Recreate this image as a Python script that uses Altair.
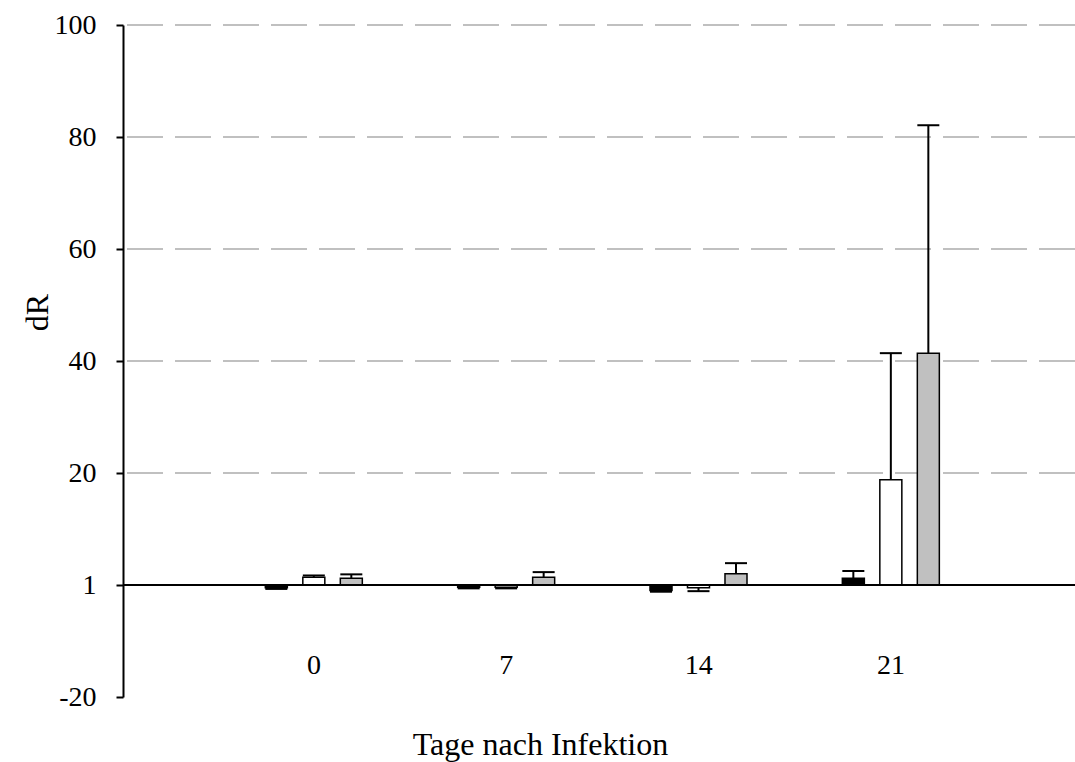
import altair as alt
import pandas as pd

# ---- data ----
days = ["0", "7", "14", "21"]
series = ["Gruppe A", "Gruppe B", "Gruppe C"]
fills = ["#000000", "#ffffff", "#c0c0c0"]

mean_a = [-0.5, -0.4, -1.0, 1.2]
mean_b = [1.4, -0.4, -0.5, 18.8]
mean_c = [1.2, 1.4, 2.0, 41.4]

err_a = [0.2, 0.2, 0.2, 1.3]
err_b = [0.3, 0.2, 0.6, 22.6]
err_c = [0.7, 0.9, 1.9, 40.7]

grid_values = [20, 40, 60, 80, 100]
baseline_values = [0]
y_ticks = [-20, 0, 20, 40, 60, 80, 100]

# ---- table ----
rows = []
for s, means, errs in zip(series, [mean_a, mean_b, mean_c], [err_a, err_b, err_c]):
    for d, m, e in zip(days, means, errs):
        rows.append({"day": d, "series": s, "v": m, "e": e})
df = pd.DataFrame(rows)

FONT = "Liberation Serif"

yscale = alt.Scale(domain=[-20, 100], nice=False, zero=False)
xscale = alt.Scale(domain=days, range=[0, 959], paddingInner=0, paddingOuter=0.493)
xaxis = alt.Axis(
    title="Tage nach Infektion", domain=False, ticks=False, grid=False,
    labelAngle=0, labelPadding=-32, labelBaseline="middle",
    labelFont=FONT, labelFontSize=28, labelColor="black",
    titleFont=FONT, titleFontSize=32, titleFontWeight="normal", titleColor="black",
    titleX=417, titleY=57, titleAlign="center", titleBaseline="alphabetic",
)
yaxis = alt.Axis(
    title="dR", values=y_ticks,
    labelExpr="datum.value == 0 ? '1' : toString(datum.value)",
    grid=False, domainColor="black", domainWidth=2,
    tickColor="black", tickWidth=2, tickSize=7, labelPadding=20,
    labelFont=FONT, labelFontSize=28, labelColor="black",
    titleFont=FONT, titleFontSize=32, titleFontWeight="normal", titleColor="black",
    titleX=-86, titleY=287, titleAngle=-90, titleAlign="center", titleBaseline="middle",
)

x_enc = alt.X("day:N", sort=days, scale=xscale, axis=xaxis)
xo_enc = alt.XOffset("series:N", sort=series,
                     scale=alt.Scale(domain=series, range=[47.5, 144.5],
                                     paddingInner=0.413, paddingOuter=0))

base = alt.Chart(df).transform_calculate(
    end="datum.v >= 0 ? datum.v + datum.e : datum.v - datum.e"
)

grid = alt.Chart(pd.DataFrame({"g": grid_values})).mark_rule(
    color="#c0c0c0", strokeWidth=2, strokeDash=[36, 12]
).encode(y=alt.Y("g:Q", scale=yscale, axis=yaxis))

bars = base.mark_bar(stroke="black", strokeWidth=1.5).encode(
    x=x_enc,
    xOffset=xo_enc,
    y=alt.Y("v:Q", scale=yscale, axis=yaxis),
    color=alt.Color("series:N", scale=alt.Scale(domain=series, range=fills), legend=None),
)

err_rule = base.mark_rule(color="black", strokeWidth=2).encode(
    x=x_enc, xOffset=xo_enc,
    y=alt.Y("v:Q", scale=yscale, axis=yaxis), y2="end:Q",
)

caps = base.mark_tick(color="black", thickness=2, size=22, opacity=1).encode(
    x=x_enc, xOffset=xo_enc,
    y=alt.Y("end:Q", scale=yscale, axis=yaxis),
)

baseline = alt.Chart(pd.DataFrame({"b": baseline_values})).mark_rule(
    color="black", strokeWidth=2
).encode(y=alt.Y("b:Q", scale=yscale, axis=yaxis))

chart = alt.layer(grid, bars, err_rule, caps, baseline).properties(
    width=952, height=672,
    background="white",
    padding={"left": 123, "top": 25, "right": 0, "bottom": 65},
    autosize=alt.AutoSizeParams(type="none"),
).configure_view(stroke=None).configure_axis(grid=False).configure_axisX(
    domain=False, ticks=False, grid=False
)

chart.save("out.html", embed_options={"renderer": "svg", "actions": False})
